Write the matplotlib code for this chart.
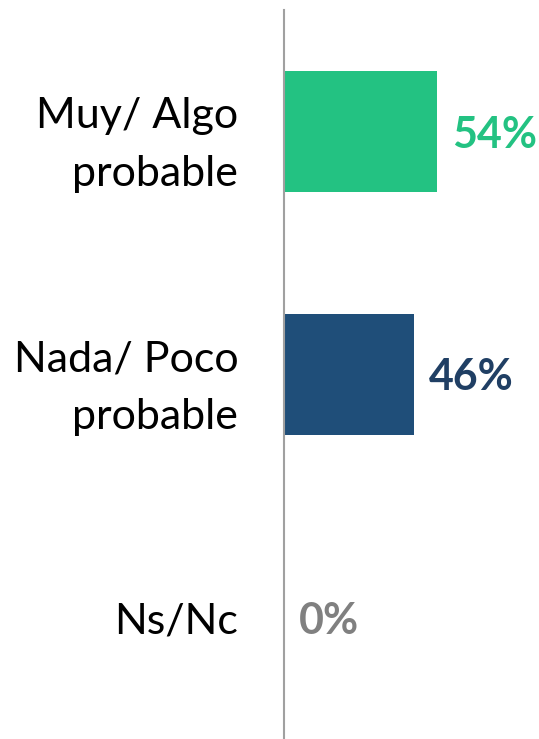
import matplotlib
matplotlib.use("Agg")
import matplotlib.pyplot as plt
from matplotlib.transforms import offset_copy

categories = ["Muy/ Algo\nprobable", "Nada/ Poco\nprobable", "Ns/Nc"]
values = [54, 46, 0]
labels = ["54%", "46%", "0%"]
bar_colors = ["#23C282", "#1F4E79", "#808080"]
text_colors = ["#23C282", "#203F64", "#808080"]

plt.rcParams['font.family'] = ['Lato', 'DejaVu Sans']

fig = plt.figure(figsize=(5.39, 7.39), dpi=100)
ax = fig.add_axes([284/539, 0, 1 - 284/539, (739 - 10)/739])

y = list(range(len(categories)))
ax.barh(y, values, height=0.5, color=bar_colors)
ax.set_xlim(0, 90)
ax.set_ylim(2.5, -0.5)

trans = offset_copy(ax.transData, fig=fig, x=15, y=-3, units='dots')
for yi, v, lab, c in zip(y, values, labels, text_colors):
    ax.text(v, yi, lab, transform=trans, ha='left', va='center',
            fontsize=31, fontweight='bold', color=c)

ax.set_yticks(y)
ax.set_yticklabels(categories, fontsize=31, color='black', linespacing=1.65)
ax.tick_params(axis='y', length=0, pad=33)
ax.set_xticks([])
for s in ['top', 'right', 'bottom']:
    ax.spines[s].set_visible(False)
ax.spines['left'].set_color('#A0A0A0')
ax.spines['left'].set_linewidth(1.5)

fig.savefig("out.png", dpi=100)
